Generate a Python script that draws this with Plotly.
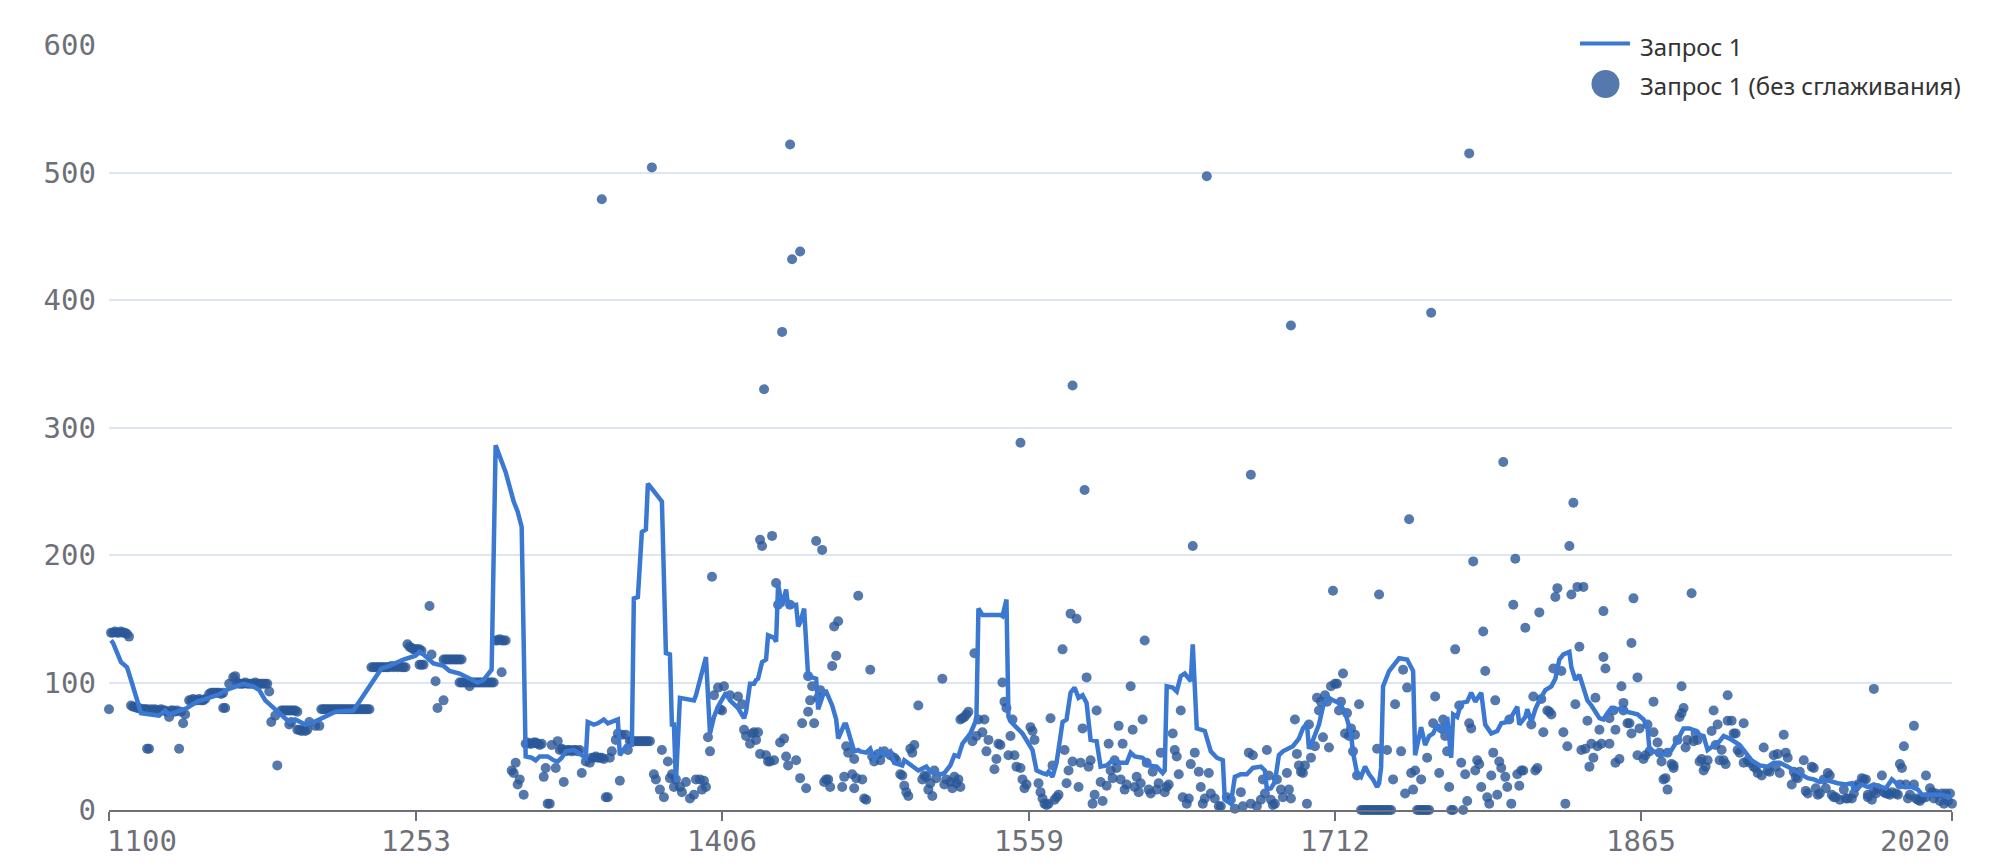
import plotly.graph_objects as go

# ---------------- data ----------------
tick_values = [1100, 1253, 1406, 1559, 1712, 1865, 2020]
tick_labels = ["1100", "1253", "1406", "1559", "1712", "1865", "2020"]
y_tick_values = [0, 100, 200, 300, 400, 500, 600]

line_name = "Запрос 1"
raw_name = "Запрос 1 (без сглаживания)"

# raw (unsmoothed) points, (x, value)
raw_1100_1299 = [
    (1100, 79), (1101, 139), (1102, 139), (1103, 140), (1104, 139), (1105, 139), (1106, 140), (1107, 139),
    (1108, 139), (1109, 138), (1110, 136),
    (1111, 82), (1112, 81), (1113, 81), (1114, 80), (1115, 80), (1116, 79), (1117, 79), (1118, 79), (1119, 79),
    (1120, 78), (1121, 79), (1122, 78), (1123, 79), (1124, 78), (1125, 78), (1126, 79), (1127, 78), (1128, 78),
    (1129, 77), (1131, 78), (1132, 78), (1133, 77), (1134, 78), (1136, 77),
    (1119, 48), (1120, 48), (1130, 73), (1135, 48), (1137, 68), (1138, 75),
    (1140, 86), (1141, 86), (1142, 87), (1143, 86), (1144, 86), (1145, 87), (1146, 86), (1147, 86), (1148, 87),
    (1150, 91), (1151, 92), (1152, 92), (1153, 92), (1154, 92), (1155, 92), (1156, 91), (1157, 92),
    (1157, 80), (1158, 80), (1160, 99), (1162, 104), (1163, 105),
    (1164, 100), (1165, 99), (1166, 99), (1167, 99), (1168, 100), (1169, 99), (1170, 99), (1171, 99), (1172, 99),
    (1173, 100), (1174, 99), (1175, 99), (1176, 99), (1177, 99), (1178, 99), (1179, 99),
    (1180, 93), (1181, 69), (1183, 74), (1184, 35),
    (1186, 78), (1187, 78), (1188, 78), (1189, 78), (1190, 78), (1191, 78), (1192, 78), (1193, 78), (1194, 77),
    (1190, 67), (1191, 69),
    (1194, 63), (1195, 63), (1196, 62), (1197, 63), (1198, 62), (1199, 63),
    (1200, 69), (1203, 66), (1205, 66),
    (1206, 79), (1207, 79), (1208, 79), (1209, 79), (1210, 79), (1211, 79), (1212, 79), (1213, 79), (1214, 79),
    (1215, 79), (1216, 79), (1217, 79), (1218, 79), (1219, 79), (1220, 79), (1221, 79), (1222, 79), (1223, 79),
    (1224, 79), (1225, 79), (1226, 79), (1227, 79), (1228, 79), (1229, 79), (1230, 79),
    (1231, 112), (1232, 112), (1233, 112), (1234, 112), (1235, 112), (1236, 112), (1237, 112), (1238, 112),
    (1239, 112), (1240, 112), (1241, 113), (1242, 112), (1243, 113), (1244, 112), (1245, 113), (1246, 112),
    (1247, 112), (1248, 112),
    (1249, 130), (1250, 128), (1251, 127), (1252, 126), (1253, 126), (1254, 126), (1255, 126), (1256, 125),
    (1255, 114), (1256, 114), (1257, 114), (1260, 160), (1261, 122), (1263, 101), (1264, 80), (1267, 86),
    (1267, 118), (1268, 118), (1269, 118), (1270, 118), (1271, 118), (1272, 118), (1273, 118), (1274, 118),
    (1275, 118), (1276, 118),
    (1275, 100), (1276, 100), (1277, 100), (1278, 100), (1279, 100), (1280, 100), (1281, 100), (1282, 100),
    (1283, 100), (1284, 100), (1285, 100), (1286, 100), (1287, 100), (1288, 100), (1289, 100), (1290, 100),
    (1291, 100), (1292, 100), (1280, 97),
    (1293, 133), (1294, 133), (1295, 134), (1296, 133), (1297, 133), (1298, 133), (1296, 108),
]

raw_1300_1474 = [
    (1301, 31), (1302, 29), (1303, 37), (1304, 20), (1305, 24), (1307, 12),
    (1308, 52), (1309, 53), (1310, 52), (1311, 52), (1312, 53), (1313, 53), (1314, 52), (1315, 51), (1316, 52),
    (1317, 26), (1318, 33), (1319, 5), (1320, 5), (1321, 51), (1323, 33), (1324, 54), (1327, 22),
    (1325, 47), (1326, 48), (1327, 47), (1328, 46), (1329, 47), (1330, 47), (1331, 46), (1332, 47), (1333, 47),
    (1334, 46), (1335, 47),
    (1336, 29), (1338, 38), (1340, 37),
    (1341, 41), (1342, 41), (1343, 42), (1344, 41), (1345, 41), (1346, 41), (1347, 40),
    (1348, 10), (1349, 10), (1350, 41), (1351, 46), (1353, 55), (1354, 60), (1355, 23), (1356, 59), (1358, 59),
    (1359, 47),
    (1360, 54), (1361, 54), (1362, 54), (1363, 54), (1364, 54), (1365, 54), (1366, 54), (1367, 54), (1368, 54),
    (1369, 54), (1370, 54),
    (1372, 28), (1373, 24), (1375, 16), (1376, 47), (1377, 10), (1379, 38), (1380, 25), (1381, 28), (1382, 18),
    (1383, 24), (1385, 18), (1386, 14), (1388, 22), (1390, 9), (1392, 12), (1393, 24), (1395, 24), (1396, 16),
    (1397, 23), (1398, 18),
    (1399, 57), (1400, 46), (1402, 90), (1404, 96), (1405, 79), (1406, 78), (1407, 97), (1410, 90), (1414, 89),
    (1416, 83), (1417, 63), (1418, 58), (1420, 52), (1421, 60), (1422, 61), (1423, 55), (1424, 61),
    (1425, 44), (1428, 43), (1429, 38), (1430, 38), (1432, 39), (1435, 53), (1437, 56), (1438, 42), (1439, 35),
    (1443, 39), (1445, 25), (1448, 17),
    (1433, 178), (1434, 161), (1440, 161), (1446, 68), (1452, 68), (1449, 105), (1451, 97), (1450, 86),
    (1449, 77), (1455, 94), (1454, 88),
    (1457, 22), (1458, 24), (1459, 24), (1460, 18), (1461, 113), (1463, 121), (1462, 144), (1464, 148),
    (1466, 18), (1467, 26), (1468, 50), (1469, 45), (1471, 28), (1472, 17), (1472, 40), (1473, 25), (1474, 168),
]

raw_1475_1664 = [
    (1476, 24), (1477, 9), (1478, 8), (1480, 110), (1481, 42), (1482, 38), (1484, 44), (1485, 39), (1487, 46),
    (1490, 43), (1492, 41), (1493, 39), (1495, 28), (1496, 27), (1497, 19), (1498, 14), (1499, 11), (1500, 48),
    (1501, 45), (1502, 51), (1504, 82), (1506, 24), (1507, 27), (1508, 26), (1509, 16), (1510, 21), (1511, 11),
    (1512, 31), (1513, 25), (1516, 103), (1517, 20), (1518, 24), (1520, 22), (1521, 17), (1522, 26), (1523, 21),
    (1524, 24), (1525, 18), (1525, 71), (1526, 72), (1527, 73), (1528, 75), (1529, 77), (1531, 54), (1532, 123),
    (1533, 58), (1534, 71), (1536, 61), (1537, 71), (1538, 46), (1539, 55), (1542, 32), (1543, 40), (1544, 52),
    (1545, 51), (1546, 100), (1547, 85), (1548, 80), (1549, 43), (1550, 58), (1551, 71), (1552, 43), (1553, 34),
    (1555, 33), (1556, 24), (1557, 17), (1558, 20), (1560, 65), (1561, 62), (1562, 55), (1564, 21), (1565, 14),
    (1566, 9), (1567, 5), (1568, 4), (1569, 5), (1570, 72), (1571, 35), (1572, 8), (1573, 10), (1574, 12),
    (1576, 126), (1577, 47), (1578, 21), (1579, 31), (1580, 154), (1581, 38), (1583, 150), (1584, 18),
    (1585, 37), (1586, 64), (1588, 104), (1589, 34), (1590, 39), (1591, 5), (1592, 12), (1593, 78), (1595, 22),
    (1596, 7), (1598, 19), (1599, 52), (1600, 31), (1601, 25), (1602, 39), (1603, 33), (1604, 66), (1605, 24),
    (1606, 52), (1607, 16), (1608, 20), (1610, 97), (1611, 63), (1612, 18), (1613, 26), (1614, 14), (1615, 21),
    (1616, 71), (1617, 133), (1618, 37), (1619, 16), (1620, 13), (1621, 30), (1623, 16), (1624, 21), (1625, 45),
    (1627, 14), (1628, 18), (1629, 20), (1631, 60), (1632, 47), (1633, 42), (1634, 28), (1635, 78), (1636, 10),
    (1638, 5), (1639, 9), (1640, 36), (1642, 45), (1644, 30), (1645, 18), (1646, 5), (1647, 9), (1649, 29),
    (1650, 13), (1652, 9), (1654, 3), (1655, 3), (1658, 10), (1660, 8), (1662, 1),
]

raw_1665_1843 = [
    (1665, 14), (1666, 3), (1669, 45), (1670, 5), (1671, 43), (1673, 3), (1675, 8), (1676, 24), (1677, 13),
    (1678, 47), (1679, 27), (1680, 8), (1681, 4), (1682, 5), (1683, 24), (1685, 16), (1686, 10), (1688, 29),
    (1689, 16), (1690, 9), (1692, 71), (1693, 44), (1694, 35), (1695, 30), (1696, 29), (1697, 35), (1698, 5),
    (1699, 67), (1700, 41), (1702, 50), (1703, 88), (1704, 78), (1705, 85), (1706, 57), (1707, 90), (1708, 85),
    (1709, 49), (1710, 97), (1712, 99), (1713, 99), (1714, 78), (1715, 85), (1716, 107), (1717, 60), (1718, 76),
    (1719, 58), (1720, 64), (1721, 46), (1722, 59), (1723, 27), (1724, 83),
    (1725, 0), (1726, 0), (1727, 0), (1728, 0), (1729, 0), (1730, 0), (1731, 0), (1732, 0), (1733, 0),
    (1734, 0), (1735, 0), (1736, 0), (1737, 0), (1738, 0), (1739, 0), (1740, 0),
    (1733, 48), (1738, 47), (1741, 24), (1742, 83), (1745, 46), (1746, 110), (1747, 13), (1748, 96), (1750, 29),
    (1751, 16), (1752, 31),
    (1753, 0), (1754, 0), (1755, 0), (1756, 0), (1757, 0), (1758, 0), (1759, 0),
    (1755, 24), (1758, 41), (1761, 68), (1762, 89), (1764, 29), (1765, 64), (1766, 71), (1767, 58), (1768, 46),
    (1769, 18), (1770, 0), (1771, 0), (1772, 126), (1774, 82), (1775, 37), (1776, 0), (1777, 28), (1778, 7),
    (1779, 68), (1780, 64), (1782, 31), (1783, 39), (1784, 36), (1785, 18), (1786, 140), (1787, 109), (1788, 10),
    (1789, 5), (1790, 27), (1791, 45), (1792, 86), (1793, 12), (1794, 38), (1795, 33), (1797, 26), (1798, 18),
    (1799, 71), (1800, 5), (1801, 161), (1803, 28), (1804, 19), (1805, 31), (1806, 31), (1807, 143), (1810, 67),
    (1811, 89), (1812, 31), (1813, 33), (1814, 155), (1815, 87), (1816, 61), (1818, 78), (1819, 77), (1820, 75),
    (1821, 111), (1822, 167), (1823, 174), (1825, 109), (1826, 61), (1827, 5), (1828, 50), (1832, 83),
    (1833, 175), (1834, 128), (1835, 47), (1836, 175), (1837, 48), (1838, 70), (1839, 34), (1840, 52), (1841, 41),
    (1842, 88), (1843, 50),
]

raw_1844_2020 = [
    (1844, 63), (1845, 52), (1846, 156), (1846, 120), (1847, 111), (1849, 52), (1849, 72), (1851, 78), (1852, 37),
    (1852, 63), (1854, 40), (1855, 97), (1856, 84), (1856, 78), (1858, 68), (1859, 68), (1860, 60), (1860, 131),
    (1861, 166), (1863, 104), (1863, 43), (1864, 64), (1866, 40), (1867, 43), (1868, 67), (1869, 46), (1871, 85),
    (1871, 61), (1873, 53), (1874, 45), (1875, 38), (1876, 24), (1877, 25), (1878, 16), (1878, 45), (1880, 36),
    (1881, 33), (1881, 35), (1883, 55), (1884, 73), (1885, 97), (1885, 76), (1886, 80), (1887, 49), (1888, 55),
    (1890, 170), (1891, 54), (1892, 60), (1893, 55), (1894, 38), (1895, 40), (1896, 31), (1897, 34), (1898, 39),
    (1900, 62), (1901, 78), (1902, 51), (1903, 67), (1904, 39), (1905, 47), (1906, 39), (1907, 36), (1908, 90),
    (1908, 70), (1910, 70), (1911, 60), (1912, 60), (1913, 47), (1914, 45), (1916, 68), (1916, 37), (1918, 39),
    (1919, 37), (1921, 34), (1922, 33), (1923, 29), (1925, 27), (1926, 49), (1928, 31), (1929, 30), (1931, 43),
    (1932, 34), (1933, 44), (1934, 29), (1936, 59), (1937, 45), (1938, 41), (1940, 20), (1941, 30), (1942, 26),
    (1943, 25), (1944, 30), (1946, 39), (1947, 15), (1948, 13), (1950, 34), (1951, 33), (1952, 17), (1953, 12),
    (1954, 13), (1956, 24), (1957, 17), (1958, 29), (1959, 27), (1960, 12), (1961, 10), (1962, 10), (1981, 95),
    (1964, 8), (1966, 16), (1967, 9), (1968, 9), (1970, 9), (1971, 13), (1972, 18), (1973, 20), (1975, 25),
    (1976, 24), (1977, 24), (1978, 10), (1978, 12), (1980, 8), (1981, 15), (1982, 13), (1983, 17), (2001, 66),
    (1985, 27), (1986, 14), (1987, 13), (1988, 13), (1989, 12), (1990, 14), (1992, 13), (1993, 12), (1994, 20),
    (1994, 36), (1995, 33), (1996, 50), (1997, 20), (1998, 9), (1999, 12), (2001, 20), (2002, 9), (2003, 8),
    (2004, 7), (2005, 9), (2007, 27), (2007, 10), (2009, 17), (2010, 14), (2011, 9), (2012, 13), (2014, 7),
    (2015, 13), (2016, 5), (2017, 13), (2018, 7), (2019, 13), (2020, 5),
]

raw_outliers = [
    (1346, 479), (1371, 504), (1401, 183), (1425, 212), (1426, 207), (1431, 215), (1427, 330), (1436, 375),
    (1440, 522), (1441, 432), (1445, 438), (1453, 211), (1456, 204),
    (1555, 288), (1581, 333), (1587, 251), (1641, 207), (1648, 497),
    (1670, 263), (1690, 380), (1711, 172), (1734, 169), (1749, 228), (1760, 390), (1779, 515), (1781, 195),
    (1796, 273), (1802, 197), (1829, 207), (1830, 169), (1831, 241),
]

# smoothed series vertices, (x, value)
smooth_1100_1474 = [
    (1101, 133), (1102, 131), (1106, 116), (1109, 112), (1111, 102), (1114, 88), (1116, 76), (1125, 74),
    (1128, 78), (1130, 75), (1139, 80), (1144, 85), (1150, 88), (1154, 90), (1160, 95), (1167, 99), (1172, 97),
    (1175, 94), (1178, 86), (1184, 77), (1190, 69), (1193, 71), (1198, 67), (1201, 68), (1207, 73), (1213, 77),
    (1222, 78), (1229, 94), (1236, 111), (1240, 113), (1247, 118), (1253, 121), (1255, 124), (1257, 122),
    (1262, 115), (1267, 113), (1270, 109), (1275, 107), (1284, 100), (1287, 102), (1291, 110), (1293, 286),
    (1298, 265), (1302, 242), (1304, 234), (1306, 222), (1308, 42), (1311, 41), (1313, 39), (1315, 42),
    (1319, 42), (1322, 39), (1324, 38), (1326, 41), (1328, 46), (1332, 47), (1335, 44), (1338, 41), (1339, 69),
    (1342, 67), (1344, 68), (1347, 71), (1349, 68), (1354, 71), (1355, 43), (1358, 50), (1361, 51), (1362, 166),
    (1364, 167), (1366, 218), (1368, 220), (1369, 256), (1370, 254), (1376, 242), (1378, 123), (1380, 122),
    (1381, 67), (1382, 67), (1383, 22), (1385, 88), (1392, 86), (1393, 90), (1395, 102), (1398, 120),
    (1400, 60), (1402, 73), (1404, 81), (1408, 92), (1410, 86), (1414, 80), (1417, 72), (1418, 77), (1420, 99),
    (1422, 99), (1423, 102), (1424, 103), (1426, 116), (1428, 118), (1429, 137), (1432, 135), (1433, 132),
    (1434, 177), (1436, 160), (1438, 173), (1439, 160), (1443, 161), (1444, 144), (1445, 147), (1447, 158),
    (1449, 105), (1453, 103), (1454, 79), (1457, 93), (1458, 93), (1461, 82), (1463, 71), (1464, 56),
    (1467, 67), (1468, 67), (1472, 46), (1474, 47),
]

smooth_1475_1664 = [
    (1475, 46), (1478, 45), (1480, 48), (1482, 39), (1485, 47), (1487, 43), (1490, 46), (1492, 37), (1496, 35),
    (1497, 39), (1501, 34), (1504, 31), (1508, 34), (1510, 30), (1515, 28), (1517, 29), (1520, 35), (1522, 43),
    (1524, 42), (1526, 52), (1530, 60), (1533, 71), (1534, 158), (1536, 153), (1545, 153), (1546, 152),
    (1548, 165), (1549, 73), (1551, 68), (1556, 60), (1561, 47), (1563, 31), (1566, 29), (1568, 28), (1569, 30),
    (1571, 26), (1573, 37), (1576, 69), (1578, 71), (1580, 92), (1582, 96), (1584, 88), (1586, 90), (1588, 84),
    (1590, 55), (1593, 54), (1595, 34), (1598, 35), (1601, 39), (1605, 37), (1608, 37), (1610, 45), (1612, 42),
    (1616, 41), (1619, 35), (1623, 34), (1626, 29), (1627, 31), (1628, 97), (1631, 96), (1633, 93), (1635, 105),
    (1637, 107), (1640, 101), (1641, 130), (1643, 64), (1647, 62), (1650, 46), (1653, 41), (1656, 39),
    (1657, 8), (1660, 5), (1662, 26),
]

smooth_1665_2020 = [
    (1665, 28), (1668, 28), (1671, 33), (1675, 34), (1677, 31), (1678, 16), (1680, 17), (1682, 22), (1684, 43),
    (1686, 46), (1690, 50), (1691, 50), (1694, 56), (1696, 64), (1698, 68), (1699, 48), (1700, 51), (1704, 67),
    (1706, 81), (1708, 89), (1711, 86), (1714, 84), (1717, 77), (1720, 60), (1721, 45), (1723, 29), (1725, 26),
    (1727, 34), (1729, 28), (1731, 24), (1733, 18), (1734, 21), (1735, 33), (1736, 97), (1739, 109), (1740, 111),
    (1742, 116), (1744, 119), (1748, 118), (1750, 112), (1751, 109), (1752, 43), (1754, 59), (1755, 65),
    (1756, 58), (1757, 51), (1759, 58), (1761, 60), (1763, 67), (1765, 62), (1767, 64), (1768, 73), (1770, 41),
    (1771, 75), (1773, 73), (1775, 84), (1778, 85), (1780, 92), (1782, 85), (1785, 92), (1787, 67), (1789, 63),
    (1790, 60), (1793, 62), (1795, 68), (1798, 69), (1800, 73), (1803, 81), (1804, 67), (1807, 73), (1808, 79),
    (1810, 69), (1812, 79), (1814, 86), (1817, 94), (1820, 97), (1822, 103), (1824, 118), (1826, 122),
    (1829, 124), (1830, 112), (1832, 102), (1834, 106), (1838, 86), (1840, 82), (1844, 72), (1846, 71),
    (1848, 76), (1850, 80), (1853, 79), (1855, 80), (1858, 77), (1860, 76), (1863, 75), (1866, 71), (1868, 65),
    (1869, 47), (1873, 45), (1875, 43), (1878, 46), (1880, 47), (1883, 55), (1886, 64), (1889, 64), (1892, 62),
    (1894, 59), (1896, 58), (1898, 47), (1901, 50), (1904, 54), (1906, 58), (1909, 56), (1913, 52), (1914, 51),
    (1917, 45), (1920, 39), (1924, 35), (1928, 34), (1931, 37), (1934, 37), (1938, 34), (1941, 31), (1944, 29),
    (1948, 25), (1951, 24), (1954, 22), (1956, 24), (1960, 22), (1963, 21), (1967, 20), (1970, 21), (1971, 16),
    (1975, 20), (1978, 18), (1981, 20), (1985, 18), (1987, 17), (1990, 24), (1993, 20), (1996, 18), (2000, 18),
    (2003, 16), (2005, 12), (2009, 12), (2011, 12), (2015, 12), (2020, 10),
]

# ---------------- assemble ----------------
raw_points = raw_1100_1299 + raw_1300_1474 + raw_1475_1664 + raw_1665_1843 + raw_1844_2020 + raw_outliers
raw_x = [p[0] for p in raw_points]
raw_y = [p[1] for p in raw_points]

smooth_points = smooth_1100_1474 + smooth_1475_1664 + smooth_1665_2020
smooth_x = [p[0] for p in smooth_points]
smooth_y = [p[1] for p in smooth_points]

# ---------------- style ----------------
PAGE_PAD = 8                      # default <body> margin of the written page
W, H = 1994 - 2 * PAGE_PAD, 868 - 2 * PAGE_PAD
ML, MR, MT, MB = 101, 34, 37, 50
PW, PH = W - ML - MR, H - MT - MB

def px_x(px):
    """screen pixel x -> paper coordinate"""
    return (px - PAGE_PAD - ML) / PW

def px_y(py):
    """screen pixel y -> paper coordinate"""
    return (H - MB - (py - PAGE_PAD)) / PH

LINE_COLOR = "#3a78d2"
DOT_COLOR = "#2b5797"
AXIS_GREY = "#6e7079"
GRID = "#e0e6f1"
MONO = "DejaVu Sans Mono"
SANS = "Noto Sans"

fig = go.Figure()
fig.add_trace(go.Scatter(
    x=raw_x, y=raw_y, mode="markers", name=raw_name,
    marker=dict(color=DOT_COLOR, size=10, opacity=0.8, line=dict(width=0)),
    cliponaxis=False, showlegend=False,
))
fig.add_trace(go.Scatter(
    x=smooth_x, y=smooth_y, mode="lines", name=line_name,
    line=dict(color=LINE_COLOR, width=4.5), cliponaxis=False, showlegend=False,
))

fig.update_layout(
    width=W, height=H,
    margin=dict(l=ML, r=MR, t=MT, b=MB),
    plot_bgcolor="white", paper_bgcolor="white",
    showlegend=False,
)
fig.update_xaxes(
    range=[1100, 2020], tickmode="array", tickvals=tick_values, showticklabels=False,
    ticks="outside", ticklen=9, tickwidth=2, tickcolor=AXIS_GREY,
    showline=True, linecolor=AXIS_GREY, linewidth=2,
    showgrid=False, zeroline=False,
)
fig.update_yaxes(
    range=[0, 600], tickmode="array", tickvals=y_tick_values,
    showgrid=True, gridcolor=GRID, gridwidth=2,
    zeroline=False, showline=False, ticks="",
    tickfont=dict(family=MONO, size=29, color=AXIS_GREY),
    ticklabelstandoff=12,
)

annotations = []
for i, (v, lab) in enumerate(zip(tick_values, tick_labels)):
    anchor = "left" if i == 0 else ("right" if i == len(tick_values) - 1 else "center")
    annotations.append(dict(
        x=v, xref="x", y=px_y(841), yref="paper", text=lab, showarrow=False,
        xanchor=anchor, yanchor="middle", xshift=(-4 if i == 0 else 0),
        font=dict(family=MONO, size=29, color=AXIS_GREY),
    ))

# legend (drawn manually to match the large symbols)
annotations.append(dict(
    x=px_x(1638), xref="paper", y=px_y(46), yref="paper", text=line_name, showarrow=False,
    xanchor="left", yanchor="middle", font=dict(family=SANS, size=24, color="#333333"),
))
annotations.append(dict(
    x=px_x(1638), xref="paper", y=px_y(85), yref="paper", text=raw_name, showarrow=False,
    xanchor="left", yanchor="middle", font=dict(family=SANS, size=24, color="#333333"),
))

shapes = [
    dict(type="line", xref="paper", yref="paper", x0=px_x(1580), x1=px_x(1630), y0=px_y(43.5), y1=px_y(43.5),
         line=dict(color=LINE_COLOR, width=4)),
    dict(type="circle", xref="paper", yref="paper", x0=px_x(1591.5), x1=px_x(1619.5), y0=px_y(98), y1=px_y(70),
         fillcolor="#5579ac", line=dict(width=0)),
]

fig.update_layout(annotations=annotations, shapes=shapes)

fig.write_html("out.html")
